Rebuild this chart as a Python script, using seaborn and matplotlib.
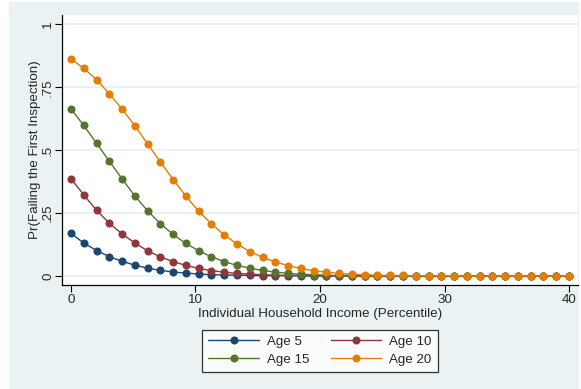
import numpy as np
import pandas as pd
import matplotlib
matplotlib.use("Agg")
import matplotlib.pyplot as plt
from matplotlib.patches import Rectangle
import seaborn as sns

# Predicted probability of failing the first inspection, by income percentile
income = np.linspace(0, 40, 40)

age5 = [0.169, 0.131, 0.101, 0.077, 0.058, 0.043, 0.031, 0.022, 0.016, 0.011,
        0.008, 0.005, 0.004, 0.003, 0.002, 0.001, 0.001, 0.001, 0.000, 0.000,
        0.000, 0.000, 0.000, 0.000, 0.000, 0.000, 0.000, 0.000, 0.000, 0.000,
        0.000, 0.000, 0.000, 0.000, 0.000, 0.000, 0.000, 0.000, 0.000, 0.000]
age10 = [0.387, 0.322, 0.261, 0.210, 0.167, 0.131, 0.100, 0.076, 0.057, 0.042,
         0.030, 0.021, 0.015, 0.010, 0.007, 0.005, 0.003, 0.002, 0.002, 0.001,
         0.001, 0.001, 0.000, 0.000, 0.000, 0.000, 0.000, 0.000, 0.000, 0.000,
         0.000, 0.000, 0.000, 0.000, 0.000, 0.000, 0.000, 0.000, 0.000, 0.000]
age15 = [0.664, 0.598, 0.528, 0.456, 0.386, 0.318, 0.259, 0.208, 0.165, 0.129,
         0.100, 0.076, 0.057, 0.042, 0.031, 0.022, 0.015, 0.010, 0.007, 0.005,
         0.003, 0.002, 0.002, 0.001, 0.001, 0.001, 0.000, 0.000, 0.000, 0.000,
         0.000, 0.000, 0.000, 0.000, 0.000, 0.000, 0.000, 0.000, 0.000, 0.000]
age20 = [0.863, 0.825, 0.780, 0.724, 0.663, 0.597, 0.525, 0.453, 0.383, 0.317,
         0.257, 0.207, 0.163, 0.127, 0.097, 0.074, 0.056, 0.041, 0.030, 0.021,
         0.015, 0.010, 0.007, 0.005, 0.003, 0.002, 0.002, 0.001, 0.001, 0.001,
         0.000, 0.000, 0.000, 0.000, 0.000, 0.000, 0.000, 0.000, 0.000, 0.000]

series_names = ["Age 5", "Age 10", "Age 15", "Age 20"]
series_values = [age5, age10, age15, age20]
colors = ["#1a476f", "#90353b", "#55752f", "#e37e00"]

y_ticks = [0, 0.25, 0.5, 0.75, 1]
y_ticklabels = ["0", ".25", ".5", ".75", "1"]
x_ticks = [0, 10, 20, 30, 40]

df = pd.concat(
    [pd.DataFrame({"income": income, "prob": v, "group": n})
     for n, v in zip(series_names, series_values)],
    ignore_index=True,
)

sns.set_style("white")
plt.rcParams["font.family"] = ["Liberation Sans", "DejaVu Sans"]

BG = "#eaf2f3"
FS = 9.6
fig = plt.figure(figsize=(5.81, 3.89), dpi=100, facecolor="white")
# outer graph region
fig.patches.append(Rectangle((9 / 581, 0), 570 / 581, 387 / 389,
                             transform=fig.transFigure, facecolor=BG,
                             edgecolor="none", zorder=-10))
ax = fig.add_axes([62 / 581, 1 - 284.5 / 389, 516 / 581, 269.5 / 389])
ax.set_facecolor("white")

sns.lineplot(data=df, x="income", y="prob", hue="group",
             hue_order=series_names, palette=colors, marker="o",
             markersize=5.8, markeredgewidth=0, linewidth=1.0,
             ax=ax, legend=False)

ax.set_xlim(-0.72, 40.72)
ax.set_ylim(-0.034, 1.037)
ax.set_yticks(y_ticks)
ax.set_yticklabels(y_ticklabels, rotation=90, va="center")
ax.set_xticks(x_ticks)
for y in y_ticks:
    ax.axhline(y, color=BG, linewidth=1.4, zorder=0)

for s in ["top", "right"]:
    ax.spines[s].set_visible(False)
for s in ["left", "bottom"]:
    ax.spines[s].set_color("#000000")
    ax.spines[s].set_linewidth(0.9)
ax.tick_params(axis="x", direction="out", length=5, width=0.8,
               color="#000000", labelsize=FS, pad=2, bottom=True)
ax.tick_params(axis="y", direction="out", length=5, width=0.8,
               color="#000000", labelsize=FS, pad=0.6, left=True)

ax.set_xlabel("Individual Household Income (Percentile)", fontsize=FS, labelpad=1.5)
ax.set_ylabel("Pr(Failing the First Inspection)", fontsize=FS, labelpad=0.8)

# two-column legend, row-wise: Age 5 / Age 10, Age 15 / Age 20
handles = [plt.Line2D([], [], color=c, marker="o", markersize=5.8,
                      markeredgewidth=0, linewidth=1.0) for c in colors]
order = [0, 2, 1, 3]
leg = fig.legend([handles[i] for i in order], [series_names[i] for i in order],
                 ncol=2, loc="center", bbox_to_anchor=(320 / 581, 1 - 350.5 / 389),
                 frameon=True, fancybox=False, fontsize=FS, handlelength=3.8,
                 columnspacing=1.6, handletextpad=0.6, borderpad=0.45,
                 labelspacing=0.4, edgecolor="black", borderaxespad=0)
leg.get_frame().set_linewidth(0.9)
leg.get_frame().set_facecolor("white")

fig.savefig("out.png", dpi=100, facecolor=fig.get_facecolor())
